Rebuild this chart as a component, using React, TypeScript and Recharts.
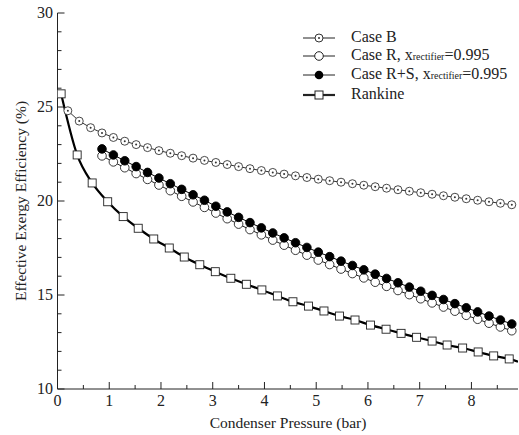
import React from 'react';
import { ComposedChart, Line, XAxis, YAxis } from 'recharts';

const caseBX = [0.2,0.42,0.64,0.86,1.08,1.3,1.52,1.74,1.96,2.18,2.4,2.62,2.84,3.06,3.28,3.5,3.72,3.94,4.16,4.38,4.6,4.82,5.04,5.26,5.48,5.7,5.92,6.14,6.36,6.58,6.8,7.02,7.24,7.46,7.68,7.9,8.12,8.34,8.56,8.78];
const caseBY = [24.8,24.25,23.9,23.62,23.38,23.18,23.0,22.84,22.68,22.54,22.41,22.28,22.16,22.05,21.94,21.83,21.72,21.62,21.52,21.43,21.34,21.25,21.16,21.08,21.0,20.92,20.84,20.76,20.68,20.6,20.52,20.44,20.36,20.28,20.2,20.12,20.04,19.96,19.88,19.8];
const caseRX = caseBX.slice(3);
const caseRSY = [22.77,22.45,22.14,21.83,21.52,21.22,20.92,20.62,20.33,20.04,19.72,19.42,19.13,18.85,18.57,18.3,18.04,17.78,17.53,17.28,17.04,16.8,16.57,16.34,16.11,15.88,15.65,15.42,15.2,14.98,14.76,14.54,14.32,14.1,13.88,13.67,13.46];
const caseRY = [22.4,22.08,21.77,21.46,21.15,20.85,20.55,20.25,19.95,19.66,19.36,19.06,18.77,18.48,18.2,17.92,17.65,17.38,17.12,16.86,16.62,16.38,16.14,15.91,15.68,15.46,15.24,15.02,14.8,14.58,14.36,14.14,13.92,13.71,13.5,13.3,13.1];
const rankX = [0.07,0.38,0.67,0.97,1.27,1.56,1.86,2.16,2.45,2.75,3.05,3.35,3.65,3.95,4.25,4.55,4.85,5.15,5.45,5.75,6.05,6.35,6.64,6.94,7.24,7.53,7.83,8.13,8.43,8.73];
const rankY = [25.7,22.45,20.96,19.96,19.17,18.55,17.98,17.5,17.02,16.61,16.24,15.89,15.57,15.27,14.95,14.64,14.41,14.15,13.88,13.67,13.4,13.18,12.96,12.75,12.55,12.34,12.18,11.97,11.76,11.6];
const xTicks = [0,0.5,1,1.5,2,2.5,3,3.5,4,4.5,5,5.5,6,6.5,7,7.5,8,8.5];
const yTicks = [10,11,12,13,14,15,16,17,18,19,20,21,22,23,24,25,26,27,28,29,30];

const caseB = caseBX.map((x, i) => ({ x, y: caseBY[i] }));
const caseR = caseRX.map((x, i) => ({ x, y: caseRY[i] }));
const caseRS = caseRX.map((x, i) => ({ x, y: caseRSY[i] }));
const rank = [...rankX.map((x, i) => ({ x, y: rankY[i] })), { x: 8.9, y: 11.45 }];

const FONT = "'Times New Roman', 'Liberation Serif', serif";

const BDot = (p: any) => p.cx == null ? null : (
  <g><circle cx={p.cx} cy={p.cy} r={4} fill="#fff" stroke="#333" strokeWidth={0.9} /><circle cx={p.cx} cy={p.cy} r={1} fill="#333" /></g>
);
const ODot = (p: any) => p.cx == null ? null : <circle cx={p.cx} cy={p.cy} r={4.3} fill="#fff" stroke="#222" strokeWidth={0.9} />;
const FDot = (p: any) => p.cx == null ? null : <circle cx={p.cx} cy={p.cy} r={4.3} fill="#000" stroke="#000" strokeWidth={0.9} />;
const SDot = (p: any) => (p.cx == null || p.payload.x > 8.8) ? null : <rect x={p.cx - 4} y={p.cy - 4} width={8} height={8} fill="#fff" stroke="#222" strokeWidth={0.9} />;

const XTick = (p: any) => {
  const v = p.payload.value;
  const major = Number.isInteger(v);
  return (
    <g>
      <line x1={p.x} x2={p.x} y1={389} y2={389 - (major ? 7 : 4)} stroke="#222" />
      {major && <text x={p.x} y={406} textAnchor="middle" style={{ fontFamily: FONT, fontSize: 16 }} fill="#222">{v}</text>}
    </g>
  );
};
const YTick = (p: any) => {
  const v = p.payload.value;
  const major = v % 5 === 0;
  return (
    <g>
      <line x1={57.5} x2={57.5 + (major ? 7 : 4)} y1={p.y} y2={p.y} stroke="#222" />
      {major && <text x={53} y={p.y + 5} textAnchor="end" style={{ fontFamily: FONT, fontSize: 16 }} fill="#222">{v}</text>}
    </g>
  );
};

const Icon = ({ kind }: { kind: string }) => (
  <svg width={32} height={12} style={{ verticalAlign: 'middle' }}>
    <line x1={0} x2={32} y1={6} y2={6} stroke="#222" strokeWidth={kind === 'rank' ? 2.2 : 1} />
    {kind === 'b' && <g><circle cx={16} cy={6} r={4} fill="#fff" stroke="#333" /><circle cx={16} cy={6} r={1} fill="#333" /></g>}
    {kind === 'r' && <circle cx={16} cy={6} r={4.3} fill="#fff" stroke="#222" />}
    {kind === 'rs' && <circle cx={16} cy={6} r={4.3} fill="#000" />}
    {kind === 'rank' && <rect x={12} y={2} width={8} height={8} fill="#fff" stroke="#222" />}
  </svg>
);
const sub = <span style={{ fontSize: 10 }}>rectifier</span>;

export default function App() {
  return (
    <div style={{ position: 'absolute', left: 0, top: 0, background: '#fff', fontFamily: FONT }}>
      <ComposedChart width={519} height={435} margin={{ top: 13, right: 1, bottom: 0, left: 0 }}>
        <XAxis dataKey="x" type="number" domain={[0, 8.9]} ticks={xTicks} interval={0} tick={<XTick />} tickLine={false} allowDataOverflow height={46}
          axisLine={{ stroke: '#222' }} />
        <XAxis xAxisId="top" orientation="top" type="number" domain={[0, 8.9]} tick={false} tickLine={false} height={0} axisLine={{ stroke: '#444' }} />
        <YAxis type="number" domain={[10, 30]} ticks={yTicks} interval={0} tick={<YTick />} tickLine={false} width={57.5} axisLine={{ stroke: '#222' }} />
        <YAxis yAxisId="right" orientation="right" domain={[10, 30]} tick={false} tickLine={false} width={0} axisLine={{ stroke: '#444' }} />
        <Line data={caseB} dataKey="y" stroke="#333" strokeWidth={1} dot={<BDot />} isAnimationActive={false} />
        <Line data={caseR} dataKey="y" stroke="#222" strokeWidth={1} dot={<ODot />} isAnimationActive={false} />
        <Line data={caseRS} dataKey="y" stroke="#000" strokeWidth={1} dot={<FDot />} isAnimationActive={false} />
        <Line data={rank} dataKey="y" type="monotone" stroke="#000" strokeWidth={2.2} dot={<SDot />} isAnimationActive={false} />
        <text x={288} y={428} textAnchor="middle" style={{ fontFamily: FONT, fontSize: 15.5 }} fill="#222">Condenser Pressure (bar)</text>
        <text transform="translate(26,201) rotate(-90)" textAnchor="middle" style={{ fontFamily: FONT, fontSize: 15.5 }} fill="#222">Effective Exergy Efficiency (%)</text>
      </ComposedChart>
      <div style={{ position: 'absolute', left: 303, top: 28, fontSize: 16, color: '#222', lineHeight: '17.5px', whiteSpace: 'nowrap' }}>
        <div><Icon kind="b" /><span style={{ marginLeft: 16 }}>Case B</span></div>
        <div><Icon kind="r" /><span style={{ marginLeft: 16 }}>Case R, x{sub}=0.995</span></div>
        <div><Icon kind="rs" /><span style={{ marginLeft: 16 }}>Case R+S, x{sub}=0.995</span></div>
        <div><Icon kind="rank" /><span style={{ marginLeft: 16 }}>Rankine</span></div>
      </div>
    </div>
  );
}
